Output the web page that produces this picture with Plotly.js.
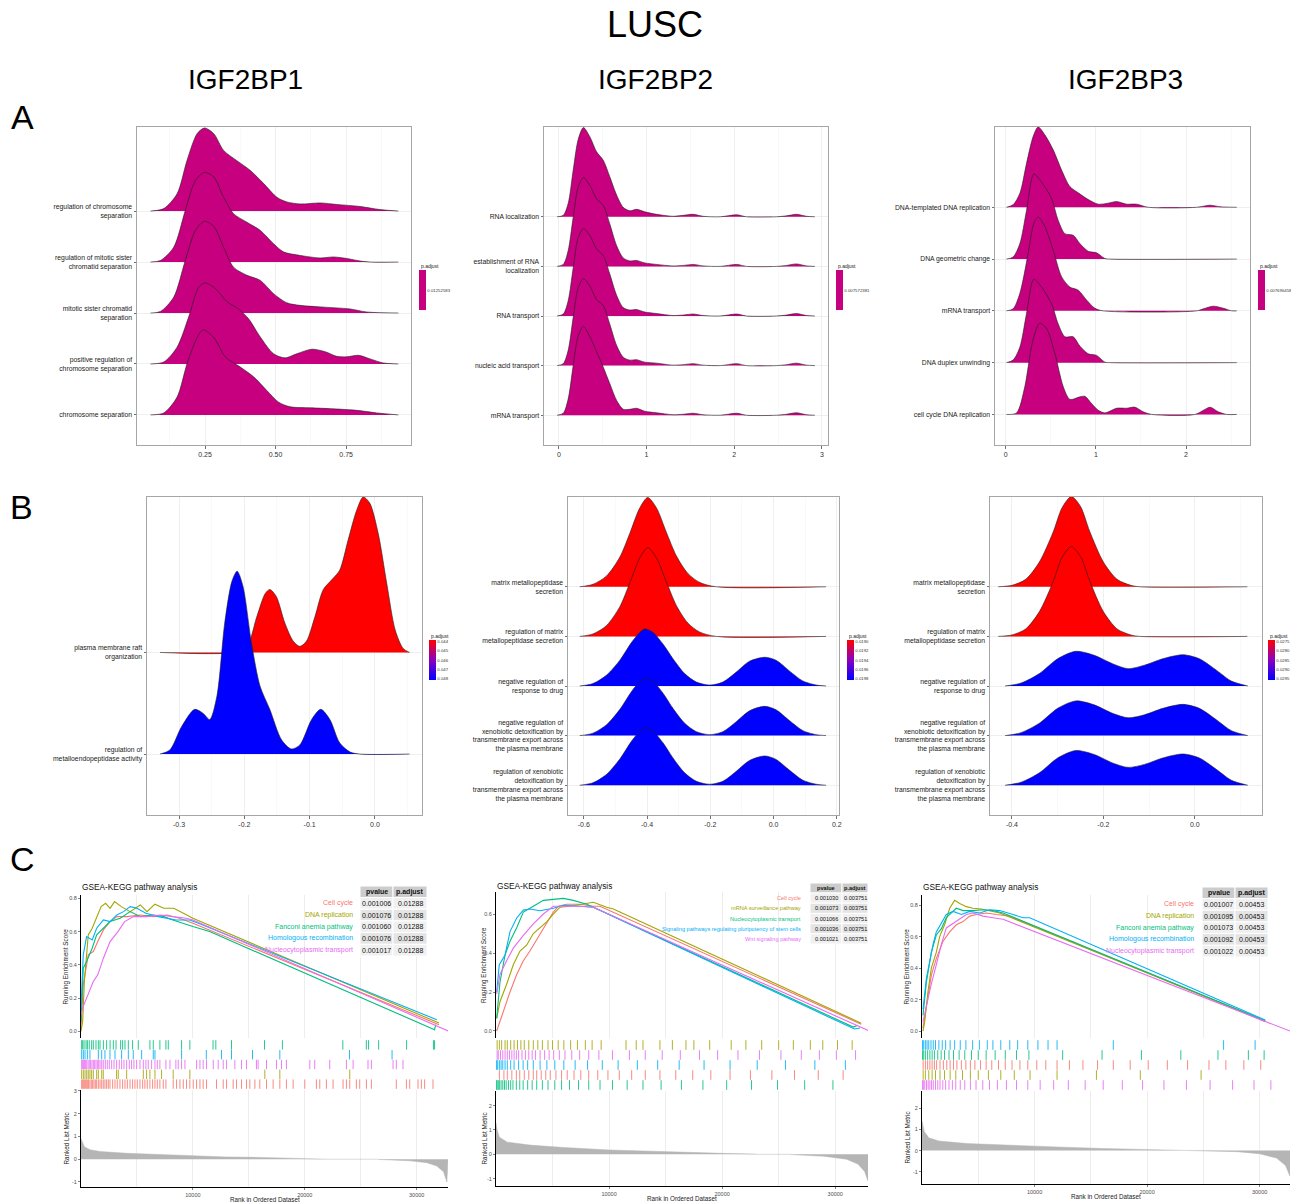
<!DOCTYPE html>
<html><head><meta charset="utf-8">
<script src="https://cdn.plot.ly/plotly-3.0.1.min.js"></script>
<style>html,body{margin:0;padding:0;background:#fff}#chart{width:1291px;height:1202px}</style>
</head><body><div id="chart"></div>
<script>
// ================= DATA =================
// ---- Row A (ridges, labels bottom -> top, ridges top -> bottom) ----
const a1_labels = ['chromosome separation','positive regulation of<br>chromosome separation','mitotic sister chromatid<br>separation','regulation of mitotic sister<br>chromatid separation','regulation of chromosome<br>separation'];
const a1_x_r1 = [0.057,0.104,0.151,0.186,0.222,0.248,0.281,0.316,0.363,0.410,0.458,0.505,0.540,0.587,0.658,0.717,0.800,0.870,0.935];
const a1_h_r1 = [0,0.05,0.34,0.99,1.52,1.63,1.52,1.19,0.99,0.80,0.54,0.27,0.18,0.14,0.16,0.13,0.09,0.03,0];
const a1_x_r2 = [0.057,0.092,0.139,0.180,0.216,0.248,0.281,0.316,0.351,0.399,0.446,0.493,0.528,0.587,0.658,0.705,0.752,0.800,0.835,0.935];
const a1_h_r2 = [0,0.03,0.29,1.01,1.60,1.76,1.67,1.27,0.95,0.78,0.62,0.36,0.20,0.13,0.08,0.10,0.07,0.02,0,0];
const a1_x_r3 = [0.057,0.092,0.139,0.180,0.216,0.248,0.281,0.316,0.351,0.399,0.446,0.493,0.540,0.587,0.658,0.717,0.764,0.823,0.935];
const a1_h_r3 = [0,0.03,0.31,1.03,1.62,1.80,1.70,1.29,0.90,0.74,0.64,0.38,0.20,0.15,0.12,0.10,0.08,0.02,0];
const a1_x_r4 = [0.057,0.104,0.151,0.192,0.228,0.251,0.287,0.328,0.369,0.404,0.446,0.493,0.534,0.575,0.629,0.676,0.717,0.752,0.794,0.835,0.882,0.935];
const a1_h_r4 = [0,0.04,0.33,0.92,1.51,1.59,1.48,1.22,1.08,0.89,0.53,0.20,0.12,0.20,0.29,0.24,0.15,0.14,0.17,0.10,0.02,0];
const a1_x_r5 = [0.057,0.104,0.151,0.186,0.222,0.243,0.281,0.322,0.375,0.422,0.469,0.511,0.552,0.623,0.705,0.788,0.858,0.935];
const a1_h_r5 = [0,0.04,0.35,1.0,1.52,1.67,1.52,1.14,0.94,0.75,0.48,0.25,0.16,0.14,0.12,0.09,0.04,0];
const a1_padj = '0.01252583';

const a2_labels = ['mRNA transport','nucleic acid transport','RNA transport','establishment of RNA<br>localization','RNA localization'];
const a2_x = [-0.02,0.05,0.106,0.163,0.22,0.28,0.354,0.43,0.506,0.58,0.658,0.734,0.81,0.886,0.98,1.114,1.30,1.42,1.532,1.646,1.84,2.03,2.14,2.48,2.60,2.71,2.825,2.92];
const a2_h_r1 = [0,0.03,0.27,0.94,1.56,1.80,1.61,1.31,1.14,0.81,0.44,0.19,0.12,0.15,0.10,0.05,0.01,0.03,0.05,0.01,0,0.04,0,0,0.02,0.05,0.01,0];
const a2_h_r2 = [0,0.04,0.32,0.99,1.60,1.79,1.63,1.36,1.23,0.86,0.42,0.17,0.11,0.12,0.07,0.04,0.01,0.02,0.04,0.01,0,0.04,0,0,0.02,0.05,0.01,0];
const a2_h_r3 = [0,0.04,0.31,0.97,1.58,1.76,1.62,1.35,1.22,0.85,0.42,0.17,0.12,0.13,0.08,0.05,0.01,0.02,0.04,0.01,0,0.04,0,0,0.02,0.05,0.01,0];
const a2_h_r4 = [0,0.04,0.31,0.97,1.57,1.75,1.60,1.33,1.21,0.84,0.41,0.17,0.11,0.12,0.07,0.05,0.01,0.02,0.04,0.01,0,0.04,0,0,0.02,0.05,0.01,0];
const a2_h_r5 = [0,0.04,0.33,1.0,1.60,1.79,1.58,1.28,0.97,0.64,0.30,0.12,0.12,0.14,0.08,0.05,0.01,0.02,0.04,0.01,0,0.04,0,0,0.02,0.05,0.01,0];
const a2_padj = '0.007572381';

const a3_labels = ['cell cycle DNA replication','DNA duplex unwinding','mRNA transport','DNA geometric change','DNA-templated DNA replication'];
const a3_x_r1 = [0.007,0.081,0.156,0.230,0.304,0.359,0.433,0.526,0.619,0.711,0.804,0.915,1.026,1.137,1.230,1.341,1.452,1.581,2.119,2.267,2.378,2.563];
const a3_h_r1 = [0,0.05,0.27,0.85,1.37,1.55,1.40,1.11,0.72,0.40,0.28,0.15,0.06,0.08,0.11,0.06,0.06,0,0,0.04,0.01,0];
const a3_x_r2 = [0.007,0.081,0.156,0.230,0.311,0.396,0.507,0.581,0.656,0.748,0.822,0.915,1.007,1.100,1.156,2.563];
const a3_h_r2 = [0,0.04,0.30,0.94,1.64,1.49,1.17,0.75,0.49,0.46,0.30,0.15,0.12,0.01,0,0];
const a3_x_r3 = [0.007,0.081,0.156,0.248,0.311,0.359,0.433,0.526,0.619,0.711,0.804,0.896,0.989,1.081,2.119,2.193,2.304,2.415,2.507,2.563];
const a3_h_r3 = [0,0.04,0.34,1.11,1.69,1.81,1.63,1.17,0.66,0.46,0.40,0.21,0.05,0,0,0.04,0.09,0.05,0,0];
const a3_x_r4 = [0.007,0.081,0.156,0.230,0.311,0.396,0.507,0.581,0.656,0.748,0.822,0.915,1.007,1.100,1.156,2.563];
const a3_h_r4 = [0,0.05,0.30,0.95,1.61,1.46,1.14,0.75,0.50,0.50,0.32,0.17,0.14,0.01,0,0];
const a3_x_r5 = [0.007,0.119,0.211,0.285,0.341,0.378,0.452,0.544,0.637,0.711,0.822,0.878,0.952,1.026,1.100,1.230,1.341,1.433,1.526,1.619,2.100,2.193,2.267,2.359,2.452,2.563];
const a3_h_r5 = [0,0.03,0.54,1.31,1.66,1.76,1.66,1.18,0.54,0.29,0.34,0.35,0.21,0.08,0.03,0.12,0.12,0.14,0.05,0,0,0.08,0.14,0.05,0,0];
const a3_padj = '0.007696458';

// ---- Row B ----
const b1_labels = ['regulation of<br>metalloendopeptidase activity','plasma membrane raft<br>organization'];
const b1_x_red = [-0.329,-0.217,-0.196,-0.181,-0.168,-0.161,-0.151,-0.138,-0.125,-0.115,-0.105,-0.092,-0.079,-0.064,-0.054,-0.041,-0.028,-0.018,-0.008,0.005,0.018,0.031,0.043,0.053];
const b1_h_red = [0,0,0.06,0.35,0.58,0.62,0.55,0.29,0.11,0.06,0.11,0.35,0.62,0.73,0.81,1.11,1.40,1.53,1.47,1.17,0.68,0.22,0.04,0];
const b1_x_blue = [-0.329,-0.314,-0.296,-0.276,-0.263,-0.253,-0.242,-0.230,-0.219,-0.211,-0.202,-0.189,-0.176,-0.161,-0.143,-0.128,-0.115,-0.097,-0.083,-0.069,-0.054,-0.038,-0.023,0.053];
const b1_h_blue = [0,0.04,0.27,0.44,0.40,0.34,0.57,1.29,1.70,1.80,1.65,1.09,0.67,0.44,0.14,0.05,0.09,0.34,0.44,0.34,0.11,0.02,0,0];
const b1_padj_ticks = [0.044,0.045,0.046,0.047,0.048];

const b2_labels = ['regulation of xenobiotic<br>detoxification by<br>transmembrane export across<br>the plasma membrane','negative regulation of<br>xenobiotic detoxification by<br>transmembrane export across<br>the plasma membrane','negative regulation of<br>response to drug','regulation of matrix<br>metallopeptidase secretion','matrix metallopeptidase<br>secretion'];
const b2_x_red = [-0.613,-0.571,-0.528,-0.486,-0.455,-0.423,-0.398,-0.371,-0.339,-0.307,-0.271,-0.234,-0.181,0.166];
const b2_h_red1 = [0,0.05,0.22,0.60,1.07,1.59,1.80,1.60,1.10,0.62,0.27,0.09,0,0];
const b2_h_red2 = [0,0.05,0.22,0.60,1.07,1.58,1.79,1.59,1.10,0.62,0.27,0.09,0,0];
const b2_x_blue = [-0.613,-0.571,-0.528,-0.486,-0.449,-0.423,-0.407,-0.381,-0.349,-0.318,-0.281,-0.244,-0.202,-0.160,-0.118,-0.076,-0.028,0.008,0.051,0.093,0.135,0.166];
const b2_h_blue3 = [0,0.05,0.22,0.52,0.88,1.08,1.15,1.08,0.84,0.55,0.25,0.08,0.02,0.08,0.28,0.50,0.58,0.52,0.30,0.10,0.02,0];
const b2_h_blue4 = [0,0.05,0.22,0.53,0.89,1.09,1.16,1.09,0.85,0.55,0.25,0.08,0.02,0.08,0.28,0.50,0.59,0.52,0.30,0.10,0.02,0];
const b2_h_blue5 = [0,0.05,0.22,0.53,0.89,1.09,1.16,1.09,0.85,0.55,0.25,0.08,0.02,0.08,0.28,0.50,0.59,0.52,0.30,0.10,0.02,0];
const b2_padj_ticks = [0.0190,0.0192,0.0194,0.0196,0.0198];

const b3_labels = b2_labels;
const b3_x_red = [-0.43,-0.40,-0.37,-0.34,-0.31,-0.29,-0.27,-0.25,-0.23,-0.20,-0.17,-0.14,-0.12,0.115];
const b3_h_red1 = [0,0.03,0.15,0.50,1.10,1.60,1.82,1.62,1.12,0.50,0.15,0.03,0,0];
const b3_h_red2 = [0,0.03,0.15,0.50,1.10,1.60,1.81,1.61,1.12,0.50,0.15,0.03,0,0];
const b3_x_blue = [-0.415,-0.38,-0.34,-0.30,-0.26,-0.22,-0.18,-0.146,-0.11,-0.07,-0.026,0.01,0.05,0.08,0.116];
const b3_h_blue3 = [0,0.06,0.25,0.55,0.70,0.62,0.45,0.35,0.42,0.55,0.63,0.55,0.30,0.10,0];
const b3_h_blue4 = [0,0.06,0.25,0.55,0.70,0.62,0.45,0.36,0.42,0.55,0.63,0.55,0.30,0.10,0];
const b3_h_blue5 = [0,0.06,0.25,0.55,0.70,0.62,0.45,0.36,0.42,0.55,0.63,0.55,0.30,0.10,0];
const b3_padj_ticks = [0.0275,0.0280,0.0285,0.0290,0.0295];

// ---- Row C (GSEA; ranks in thousands) ----
const c1_sets = ['Cell cycle','DNA replication','Fanconi anemia pathway','Homologous recombination','Nucleocytoplasmic transport'];
const c1_pvalue = ['0.001006','0.001076','0.001060','0.001076','0.001017'];
const c1_padj = ['0.01288','0.01288','0.01288','0.01288','0.01288'];
const c1_cc_x = [0,0.2,0.65,1.1,1.5,2.0,2.6,3.2,4.1,5.3,6.5,7.7,8.8,10,32.0];
const c1_cc_y = [0.02,0.28,0.46,0.48,0.54,0.61,0.66,0.69,0.69,0.70,0.69,0.70,0.68,0.65,0.04];
const c1_dna_x = [0,0.15,0.3,0.45,0.65,1.0,1.4,1.8,2.2,2.6,3.0,3.6,4.4,5.3,5.9,6.6,7.4,8.3,10,32.0];
const c1_dna_y = [0,0.06,0.3,0.44,0.58,0.62,0.68,0.75,0.77,0.74,0.78,0.75,0.72,0.76,0.72,0.765,0.74,0.74,0.68,0.05];
const c1_fan_x = [0,0.2,0.5,1.0,1.4,2.0,2.6,3.5,4.4,5.3,6.5,7.4,8.2,10,11.5,31.6,31.7];
const c1_fan_y = [0.06,0.38,0.42,0.5,0.58,0.62,0.66,0.68,0.72,0.69,0.70,0.69,0.67,0.63,0.6,0.01,0.04];
const c1_hr_x = [0,0.2,0.5,1.0,1.4,2.0,2.6,3.2,3.8,4.4,5.0,5.8,6.9,8.5,9.7,10.5,31.8];
const c1_hr_y = [0.14,0.46,0.57,0.55,0.62,0.67,0.66,0.7,0.72,0.75,0.74,0.71,0.69,0.67,0.67,0.65,0.07];
const c1_nt_x = [0,0.2,0.5,1.1,1.5,2.0,2.6,3.3,3.9,4.7,5.9,7.1,8.2,9.4,10,32.9];
const c1_nt_y = [0.1,0.15,0.2,0.3,0.34,0.44,0.54,0.6,0.66,0.69,0.69,0.70,0.69,0.68,0.67,0.0];
const c1_rug_fan = [0.06,0.15,0.27,0.45,0.57,0.74,0.95,1.1,1.34,1.55,1.7,2.0,2.29,2.6,2.89,3.13,3.54,3.72,3.93,4.23,4.61,5.12,6.16,6.46,7.05,7.59,7.8,8.99,9.73,11.8,12.05,13.45,16.4,18.0,23.4,25.5,25.7,26.6,29.1,31.5,31.6];
const c1_rug_hr = [0.06,0.21,0.36,0.57,0.8,1.55,1.85,2.14,2.59,3.04,3.63,4.23,4.67,5.42,6.46,6.61,8.99,11.2,12.56,13.45,15.33,17.77,24.0,27.8];
const c1_rug_nt = [0.06,0.15,0.21,0.30,0.39,0.51,0.63,0.74,0.86,0.98,1.10,1.22,1.34,1.46,1.58,1.70,1.85,1.99,2.17,2.35,2.53,2.74,2.95,3.18,3.42,3.63,3.84,4.08,4.32,4.52,4.73,4.97,5.27,5.57,5.80,6.01,6.31,6.61,6.82,7.05,7.59,7.95,8.48,8.69,8.99,9.29,10.33,10.63,10.92,11.22,11.82,12.26,12.71,13.01,13.75,14.35,14.79,15.68,15.83,16.58,17.47,17.92,18.36,20.45,20.89,22.23,23.72,24.32,25.65,25.95,27.89,28.18,28.78];
const c1_rug_dna = [0.06,0.21,0.36,0.51,0.65,0.80,0.95,1.10,1.40,1.55,1.85,1.99,3.18,3.33,4.08,5.57,5.86,6.16,6.61,7.20,8.24,9.73,16.43,17.77,24.02];
const c1_rug_cc = [0.06,0.15,0.24,0.33,0.42,0.51,0.60,0.68,0.80,0.92,1.04,1.16,1.28,1.40,1.55,1.70,1.85,1.99,2.14,2.29,2.44,2.59,2.83,3.04,3.24,3.48,3.72,3.93,4.14,4.38,4.61,4.82,5.03,5.27,5.51,5.71,5.92,6.16,6.40,6.61,6.82,7.05,7.35,7.59,8.24,8.54,8.84,9.14,9.43,9.73,10.03,10.33,10.63,10.92,11.22,12.11,12.71,13.01,13.60,13.90,14.35,14.79,15.09,15.54,15.98,16.58,17.17,17.77,18.36,18.96,20.0,21.04,21.34,21.93,22.53,23.42,23.72,24.02,24.61,24.91,25.51,25.95,28.18,29.08,29.38,30.12,30.42,30.71,31.46];
const c1_rank_x = [0,0.1,0.3,0.8,1.7,4.1,7,10,13,16,19,22,22.1,26.5,26.6,29.4,30.9,31.8,32.4,32.7,32.8];
const c1_rank_y = [0.9,0.75,0.55,0.42,0.34,0.26,0.2,0.14,0.1,0.08,0.05,0.02,0,0,-0.01,-0.07,-0.15,-0.3,-0.55,-1.0,0];

const c2_sets = ['Cell cycle','mRNA surveillance pathway','Nucleocytoplasmic transport','Signaling pathways regulating pluripotency of stem cells','Wnt signaling pathway'];
const c2_pvalue = ['0.001030','0.001073','0.001066','0.001036','0.001021'];
const c2_padj = ['0.003751','0.003751','0.003751','0.003751','0.003751'];
const c2_cc_x = [0.06,0.35,0.8,1.24,1.83,2.42,3.0,3.75,4.48,5.07,5.52,6.25,7.43,8.61,9.2,32.0,32.3];
const c2_cc_y = [0,0.05,0.12,0.2,0.29,0.36,0.41,0.48,0.55,0.61,0.64,0.65,0.65,0.64,0.64,0.04,0.035];
const c2_mrna_x = [0.06,0.35,0.94,1.53,2.12,2.71,3.30,3.89,4.48,5.07,5.66,6.55,7.43,8.61,9.79,10.38,32.3];
const c2_mrna_y = [0.065,0.15,0.24,0.34,0.41,0.44,0.5,0.53,0.56,0.6,0.635,0.64,0.65,0.66,0.635,0.626,0.04];
const c2_nt_x = [0.06,0.35,0.8,1.24,1.83,2.42,3.30,4.19,5.07,5.96,6.84,8.02,9.20,31.6,32.0];
const c2_nt_y = [0.065,0.25,0.39,0.46,0.53,0.61,0.64,0.67,0.675,0.68,0.67,0.65,0.62,0.02,0.03];
const c2_sp_x = [0.06,0.29,0.8,1.24,1.83,2.42,3.01,3.89,5.07,5.96,7.43,8.61,31.7,32.2];
const c2_sp_y = [0.2,0.34,0.39,0.51,0.58,0.62,0.626,0.617,0.63,0.645,0.64,0.635,0.01,0.015];
const c2_wnt_x = [0.06,0.35,0.94,1.53,2.42,3.30,4.19,5.07,6.25,7.43,8.61,33.0];
const c2_wnt_y = [0.19,0.29,0.36,0.425,0.49,0.55,0.6,0.64,0.64,0.64,0.635,0.0];
const c2_rug_mrna = [0.1,0.3,0.5,0.8,1.0,1.3,1.6,1.9,2.2,2.5,2.9,3.3,3.7,4.1,4.6,5.0,5.5,6.0,6.6,7.2,7.9,8.5,9.3,11.5,12.4,13.0,14.5,15.6,16.8,17.5,18.9,20.8,22.1,23.5,25.0,26.3,27.8,28.9,30.2,31.5];
const c2_rug_wnt = [0.1,0.2,0.4,0.6,0.8,1.0,1.2,1.4,1.6,1.8,2.0,2.3,2.6,2.9,3.2,3.5,3.9,4.3,4.7,5.1,5.6,6.1,6.7,7.4,8.2,9.1,10.3,11.8,13.2,14.7,16.3,18.0,19.6,21.4,23.3,25.2,27.0,28.6,30.1,31.8];
const c2_rug_sp = [0.05,0.15,0.3,0.45,0.6,0.8,1.0,1.3,1.6,2.0,2.4,2.8,3.3,3.9,4.5,5.2,6.0,7.0,8.1,9.4,10.8,12.5,14.3,16.2,18.4,20.7,23.1,25.6,28.2,30.9];
const c2_rug_cc = [0.3,0.7,1.0,1.4,1.8,2.1,2.5,2.9,3.3,3.6,4.0,4.4,4.8,5.3,5.8,6.3,6.9,7.5,8.2,9.0,9.9,10.9,12.0,13.2,14.5,15.9,17.4,19.0,20.7,22.5,24.4,26.4,28.5,30.7];
const c2_rug_nt = [0.05,0.1,0.2,0.3,0.45,0.6,0.75,0.9,1.1,1.3,1.5,1.8,2.1,2.4,2.8,3.2,3.6,4.1,4.6,5.2,5.8,6.5,7.3,8.2,9.2,10.3,11.6,13.0,14.6,16.4,18.3,20.4,22.6,24.9,27.3,29.8];
const c2_rank_x = [0,0.1,0.3,1.0,3.0,6.0,10,15,20,23,23.1,26,26.1,29,31,32,32.6,32.9,32.9];
const c2_rank_y = [1.3,1.0,0.7,0.5,0.38,0.28,0.18,0.1,0.04,0.01,0,0,-0.01,-0.08,-0.2,-0.4,-0.7,-1.1,0];

const c3_sets = ['Cell cycle','DNA replication','Fanconi anemia pathway','Homologous recombination','Nucleocytoplasmic transport'];
const c3_pvalue = ['0.001007','0.001095','0.001073','0.001092','0.001022'];
const c3_padj = ['0.00453','0.00453','0.00453','0.00453','0.00453'];
const c3_cc_x = [0.09,0.39,0.83,1.27,1.87,2.46,3.05,3.64,4.24,4.83,5.72,6.61,7.79,30.5];
const c3_cc_y = [0.02,0.145,0.355,0.46,0.57,0.63,0.675,0.695,0.73,0.74,0.75,0.74,0.73,0.06];
const c3_dna_x = [0.09,0.24,0.53,0.83,1.27,1.57,2.01,2.46,2.90,3.35,3.94,4.53,5.27,6.01,6.90,30.5];
const c3_dna_y = [0,0.06,0.25,0.4,0.5,0.6,0.675,0.78,0.83,0.81,0.79,0.78,0.775,0.765,0.75,0.065];
const c3_fan_x = [0.09,0.39,0.83,1.27,1.72,2.16,2.61,3.05,3.64,4.53,5.42,6.31,7.20,30.5];
const c3_fan_y = [0.1,0.31,0.5,0.61,0.65,0.72,0.75,0.78,0.765,0.765,0.77,0.765,0.75,0.065];
const c3_hr_x = [0.09,0.39,0.68,0.98,1.27,1.72,2.16,2.76,3.50,4.24,5.13,6.01,6.90,8.09,8.98,9.57,30.5];
const c3_hr_y = [0.14,0.335,0.44,0.55,0.63,0.685,0.74,0.76,0.74,0.76,0.75,0.77,0.765,0.74,0.72,0.72,0.07];
const c3_nt_x = [0.09,0.39,0.83,1.27,1.72,2.16,2.76,3.35,3.94,4.53,5.42,6.31,7.20,32.7];
const c3_nt_y = [0.06,0.165,0.3,0.42,0.55,0.655,0.685,0.71,0.74,0.75,0.73,0.72,0.71,0.0];
const c3_rug_hr = [0.05,0.15,0.3,0.45,0.6,0.8,1.0,1.2,1.5,1.8,2.1,2.5,2.9,3.4,3.9,4.5,5.1,5.8,6.3,7.0,7.8,8.5,9.4,10.3,11.2,12.0,17.0,26.8,29.6];
const c3_rug_fan = [0.05,0.15,0.3,0.5,0.7,0.9,1.1,1.4,1.7,2.0,2.4,2.8,3.3,3.8,4.4,5.0,5.7,6.5,7.4,8.4,9.5,12.5,16.0,19.5,23.0,26.3,29.0,30.4];
const c3_rug_cc = [0.1,0.3,0.5,0.7,0.9,1.1,1.3,1.6,1.9,2.2,2.5,2.8,3.1,3.5,3.9,4.3,4.7,5.2,5.7,6.2,6.8,7.4,8.0,8.7,9.4,10.2,11.0,12.0,13.1,14.3,15.6,17.0,18.5,20.1,21.8,23.6,25.5,27.0,28.6,30.1];
const c3_rug_dna = [0.1,0.3,0.6,0.9,1.2,1.6,2.0,2.5,3.0,3.6,4.3,5.0,5.9,7.0,8.2,9.6,12.0,15.5,19.4,24.8];
const c3_rug_nt = [0.05,0.15,0.25,0.4,0.55,0.7,0.85,1.0,1.2,1.4,1.6,1.85,2.1,2.4,2.7,3.0,3.4,3.8,4.3,4.8,5.4,6.0,6.7,7.5,8.4,9.4,10.5,11.7,13.0,14.5,16.1,17.8,19.6,21.5,23.5,25.6,27.6,29.5,31.0];
const c3_rank_x = [0,0.2,0.6,1.5,4,8,12,16,20,24,24.1,26,26.1,28,30,31.5,32.3,32.7,32.7];
const c3_rank_y = [1.4,0.9,0.6,0.45,0.33,0.24,0.17,0.1,0.05,0.02,0,0,-0.01,-0.05,-0.15,-0.35,-0.7,-1.2,0];

// ================= DRAWING =================
const W = 1291, H = 1202;
const FONT = 'Liberation Sans, Arial, Helvetica, sans-serif';
const MAGENTA = '#c6007e';
const COL = {red:'#F8766D', olive:'#A3A500', green:'#00BF7D', blue:'#00B0F6', pink:'#E76BF3'};
const px = v => v / W, py = v => 1 - v / H;
const xd = (a, b) => [a / W, b / W];
const yd = (a, b) => [1 - b / H, 1 - a / H];

const data = [];
const layout = {width: W, height: H, margin: {l:0, r:0, t:0, b:0}, showlegend: false,
  paper_bgcolor: '#fff', plot_bgcolor: 'rgba(0,0,0,0)', font: {family: FONT, color: '#000'},
  annotations: [], shapes: []};

let axN = 0;
function addAxes(xc, yc) {
  axN++;
  const s = axN === 1 ? '' : String(axN);
  xc.anchor = 'y' + s; yc.anchor = 'x' + s;
  xc.fixedrange = true; yc.fixedrange = true;
  layout['xaxis' + s] = xc; layout['yaxis' + s] = yc;
  return {x: 'x' + s, y: 'y' + s};
}
function ann(text, x, y, o) {
  layout.annotations.push(Object.assign({text: text, x: px(x), y: py(y), xref: 'paper', yref: 'paper',
    showarrow: false, font: {size: 8, family: FONT, color: '#000'}, xanchor: 'center', yanchor: 'middle'}, o || {}));
}
function rect(x0, y0, x1, y1, fill) {
  layout.shapes.push({type: 'rect', xref: 'paper', yref: 'paper', x0: px(x0), x1: px(x1), y0: py(y1), y1: py(y0),
    fillcolor: fill, line: {color: '#ffffff', width: 1}, layer: 'above'});
}

function ridgePanel(o) {
  const n = o.labels.length;
  const ax = addAxes({
    domain: xd(o.x0, o.x1), range: o.xr, tickmode: 'array', tickvals: o.xt, ticktext: o.xtt,
    ticks: 'outside', ticklen: 2.5, tickcolor: '#333', tickwidth: 0.7, tickfont: {size: 7, color: '#333'},
    showgrid: true, gridcolor: '#ebebeb', gridwidth: 0.8,
    minor: {tickvals: o.xm, showgrid: true, gridcolor: '#f5f5f5', gridwidth: 0.6, ticks: ''},
    zeroline: false, showline: true, mirror: true, linecolor: '#a6a6a6', linewidth: 1
  }, {
    domain: yd(o.y0, o.y1), range: o.yr, tickmode: 'array', tickvals: o.labels.map((_, i) => i), ticktext: o.labels,
    ticks: 'outside', ticklen: 2.5, tickcolor: '#333', tickwidth: 0.7, tickfont: {size: 6.8, color: '#1a1a1a'},
    showgrid: true, gridcolor: '#ebebeb', gridwidth: 0.8, zeroline: false, showline: true, mirror: true,
    linecolor: '#a6a6a6', linewidth: 1
  });
  // ridges given top -> bottom ; lower ones drawn last
  o.ridges.forEach((r, k) => {
    const base = n - 1 - k;
    data.push({type: 'scatter', mode: 'lines', x: r.x, y: r.h.map(v => v + base), fill: 'toself',
      fillcolor: r.c, line: {color: '#1f1f1f', width: 0.6, shape: 'spline', smoothing: 0.8},
      xaxis: ax.x, yaxis: ax.y, hoverinfo: 'skip'});
  });
  // colour bar (legend)
  const cb = o.cb;
  const mk = {size: 1, opacity: 0, showscale: true, color: [cb.cmin], cmin: cb.cmin, cmax: cb.cmax, colorscale: cb.scale,
    colorbar: {x: px(cb.x), xanchor: 'left', y: py(cb.yc), yanchor: 'middle', len: cb.len, lenmode: 'pixels',
      thickness: 7, thicknessmode: 'pixels', outlinewidth: 0, xpad: 0, ypad: 0, ticks: '',
      tickmode: 'array', tickvals: cb.tv, ticktext: cb.tt, tickfont: {size: 4.3, color: '#333'}, ticklabelpad: 1}};
  data.push({type: 'scatter', mode: 'markers', x: [o.xr[0]], y: [o.yr[0]], marker: mk, xaxis: ax.x, yaxis: ax.y, hoverinfo: 'skip'});
  ann('p.adjust', cb.x - 0.5, cb.yc - cb.len / 2 - 4, {xanchor: 'left', font: {size: 5, color: '#222', family: FONT}});
}

const solidScale = [[0, MAGENTA], [1, MAGENTA]];
const gradScale = [[0, '#0000ff'], [0.5, '#8a00c0'], [1, '#ff0000']];
function gradCB(ticks, x, yc, fmt) {
  // top of bar = smallest p.adjust (red), bottom = largest (blue)
  return {x: x, yc: yc, len: 40, cmin: -ticks[ticks.length - 1] - (ticks[1] - ticks[0]) * 0.12,
    cmax: -ticks[0] + (ticks[1] - ticks[0]) * 0.12, scale: gradScale,
    tv: ticks.map(v => -v), tt: ticks.map(v => v.toFixed(fmt))};
}

ridgePanel({x0: 137, x1: 411, y0: 127, y1: 445, xr: [0.009, 0.98], xt: [0.25, 0.5, 0.75], xtt: ['0.25', '0.50', '0.75'],
  xm: [0.125, 0.375, 0.625, 0.875], yr: [-0.59, 5.65], labels: a1_labels,
  ridges: [{x: a1_x_r1, h: a1_h_r1, c: MAGENTA}, {x: a1_x_r2, h: a1_h_r2, c: MAGENTA}, {x: a1_x_r3, h: a1_h_r3, c: MAGENTA},
           {x: a1_x_r4, h: a1_h_r4, c: MAGENTA}, {x: a1_x_r5, h: a1_h_r5, c: MAGENTA}],
  cb: {x: 419, yc: 290, len: 40, cmin: 0, cmax: 1, scale: solidScale, tv: [0.5], tt: [a1_padj]}});
ridgePanel({x0: 544, x1: 828, y0: 127, y1: 445, xr: [-0.17, 3.07], xt: [0, 1, 2, 3], xtt: ['0', '1', '2', '3'],
  xm: [0.5, 1.5, 2.5], yr: [-0.6, 5.81], labels: a2_labels,
  ridges: [{x: a2_x, h: a2_h_r1, c: MAGENTA}, {x: a2_x, h: a2_h_r2, c: MAGENTA}, {x: a2_x, h: a2_h_r3, c: MAGENTA},
           {x: a2_x, h: a2_h_r4, c: MAGENTA}, {x: a2_x, h: a2_h_r5, c: MAGENTA}],
  cb: {x: 836, yc: 290, len: 40, cmin: 0, cmax: 1, scale: solidScale, tv: [0.5], tt: [a2_padj]}});
ridgePanel({x0: 995, x1: 1250, y0: 127, y1: 445, xr: [-0.12, 2.71], xt: [0, 1, 2], xtt: ['0', '1', '2'],
  xm: [0.5, 1.5, 2.5], yr: [-0.59, 5.55], labels: a3_labels,
  ridges: [{x: a3_x_r1, h: a3_h_r1, c: MAGENTA}, {x: a3_x_r2, h: a3_h_r2, c: MAGENTA}, {x: a3_x_r3, h: a3_h_r3, c: MAGENTA},
           {x: a3_x_r4, h: a3_h_r4, c: MAGENTA}, {x: a3_x_r5, h: a3_h_r5, c: MAGENTA}],
  cb: {x: 1258, yc: 290, len: 40, cmin: 0, cmax: 1, scale: solidScale, tv: [0.5], tt: [a3_padj]}});

ridgePanel({x0: 147, x1: 422, y0: 497, y1: 815, xr: [-0.349, 0.072], xt: [-0.3, -0.2, -0.1, 0], xtt: ['-0.3', '-0.2', '-0.1', '0.0'],
  xm: [-0.25, -0.15, -0.05, 0.05], yr: [-0.6, 2.53], labels: b1_labels,
  ridges: [{x: b1_x_red, h: b1_h_red, c: '#ff0000'}, {x: b1_x_blue, h: b1_h_blue, c: '#0000ff'}],
  cb: gradCB(b1_padj_ticks, 429, 660, 3)});
ridgePanel({x0: 568, x1: 839, y0: 497, y1: 815, xr: [-0.65, 0.207], xt: [-0.6, -0.4, -0.2, 0, 0.2], xtt: ['-0.6', '-0.4', '-0.2', '0.0', '0.2'],
  xm: [-0.5, -0.3, -0.1, 0.1], yr: [-0.6, 5.81], labels: b2_labels,
  ridges: [{x: b2_x_red, h: b2_h_red1, c: '#ff0000'}, {x: b2_x_red, h: b2_h_red2, c: '#ff0000'},
           {x: b2_x_blue, h: b2_h_blue3, c: '#0000ff'}, {x: b2_x_blue, h: b2_h_blue4, c: '#0000ff'}, {x: b2_x_blue, h: b2_h_blue5, c: '#0000ff'}],
  cb: gradCB(b2_padj_ticks, 847, 660, 4)});
ridgePanel({x0: 990, x1: 1262, y0: 497, y1: 815, xr: [-0.448, 0.147], xt: [-0.4, -0.2, 0], xtt: ['-0.4', '-0.2', '0.0'],
  xm: [-0.3, -0.1, 0.1], yr: [-0.6, 5.81], labels: b3_labels,
  ridges: [{x: b3_x_red, h: b3_h_red1, c: '#ff0000'}, {x: b3_x_red, h: b3_h_red2, c: '#ff0000'},
           {x: b3_x_blue, h: b3_h_blue3, c: '#0000ff'}, {x: b3_x_blue, h: b3_h_blue4, c: '#0000ff'}, {x: b3_x_blue, h: b3_h_blue5, c: '#0000ff'}],
  cb: gradCB(b3_padj_ticks, 1268, 660, 4)});

function gsea(o) {
  const es = addAxes({domain: xd(o.x0, o.x1), range: [0, o.N], showticklabels: false, ticks: '', tickmode: 'array',
      tickvals: [5, 10, 15, 20, 25, 30], showgrid: true, gridcolor: '#e8e8e8', gridwidth: 0.8, zeroline: false, showline: false},
    {domain: yd(o.esY[0], o.esY[1]), range: o.esR, tickmode: 'array', tickvals: o.esT, ticktext: o.esT.map(v => v.toFixed(1)),
      ticks: 'outside', ticklen: 2, tickcolor: '#333', tickwidth: 0.6, tickfont: {size: 5.5, color: '#4d4d4d'},
      showgrid: false, zeroline: false, showline: true, linecolor: '#000', linewidth: 1});
  const rug = addAxes({domain: xd(o.x0, o.x1), range: [0, o.N], visible: false},
    {domain: yd(o.rugY[0], o.rugY[1]), range: [0, 5], visible: false});
  const rk = addAxes({domain: xd(o.x0, o.x1), range: [0, o.N], tickmode: 'array', tickvals: [10, 20, 30], ticktext: ['10000', '20000', '30000'],
      ticks: 'outside', ticklen: 2, tickcolor: '#333', tickwidth: 0.6, tickfont: {size: 5.5, color: '#4d4d4d'},
      showgrid: true, gridcolor: '#e8e8e8', gridwidth: 0.8,
      minor: {tickvals: [5, 15, 25], showgrid: true, gridcolor: '#e8e8e8', gridwidth: 0.8, ticks: ''},
      zeroline: false, showline: true, linecolor: '#000', linewidth: 1},
    {domain: yd(o.rankY[0], o.rankY[1]), range: o.rankR, tickmode: 'array', tickvals: o.rankT, ticktext: o.rankT.map(String),
      ticks: 'outside', ticklen: 2, tickcolor: '#333', tickwidth: 0.6, tickfont: {size: 5.5, color: '#4d4d4d'},
      showgrid: false, zeroline: false, showline: true, linecolor: '#000', linewidth: 1});
  // ranked list metric
  data.push({type: 'scatter', mode: 'lines', x: o.rank.x, y: o.rank.y, fill: 'tozeroy', fillcolor: '#b5b5b5',
    line: {color: '#b5b5b5', width: 0.5}, xaxis: rk.x, yaxis: rk.y, hoverinfo: 'skip'});
  // rugs (top row first)
  o.rugs.forEach((r, i) => {
    const lo = 4 - i + 0.02, hi = 5 - i - 0.02;
    const xs = [], ys = [];
    r.p.forEach(p => { xs.push(p, p, null); ys.push(lo, hi, null); });
    data.push({type: 'scatter', mode: 'lines', x: xs, y: ys, line: {color: r.c, width: 1}, opacity: 0.85,
      xaxis: rug.x, yaxis: rug.y, hoverinfo: 'skip'});
  });
  // running enrichment score
  o.curves.forEach(c => {
    data.push({type: 'scatter', mode: 'lines', x: c.x, y: c.y, line: {color: c.c, width: 1.1},
      xaxis: es.x, yaxis: es.y, hoverinfo: 'skip'});
  });
  // titles
  ann('GSEA-KEGG pathway analysis', o.x0 - 1, o.titleY, {xanchor: 'left', font: {size: 8.3, color: '#111', family: FONT}});
  ann('Running Enrichment Score', o.ytx, (o.esY[0] + o.esY[1]) / 2, {textangle: -90, font: {size: 6.3, color: '#222', family: FONT}});
  ann('Ranked List Metric', o.ytx, (o.rankY[0] + o.rankY[1]) / 2, {textangle: -90, font: {size: 6.3, color: '#222', family: FONT}});
  ann('Rank in Ordered Dataset', (o.x0 + o.x1) / 2, o.rankY[1] + 12, {font: {size: 6.3, color: '#222', family: FONT}});
  // p-value table
  const t = o.table;
  rect(t.x0, t.y0, t.x1, t.y0 + t.hh, '#cccccc');
  rect(t.x1, t.y0, t.x2, t.y0 + t.hh, '#cccccc');
  ann('<b>pvalue</b>', (t.x0 + t.x1) / 2, t.y0 + t.hh / 2, {font: {size: t.fs, color: '#111', family: FONT}});
  ann('<b>p.adjust</b>', (t.x1 + t.x2) / 2, t.y0 + t.hh / 2, {font: {size: t.fs, color: '#111', family: FONT}});
  o.sets.forEach((s, i) => {
    const y0 = t.y0 + t.hh + i * t.rh, fill = i % 2 === 0 ? '#f0f0f0' : '#e4e4e4';
    rect(t.x0, y0, t.x1, y0 + t.rh, fill);
    rect(t.x1, y0, t.x2, y0 + t.rh, fill);
    ann(o.pv[i], (t.x0 + t.x1) / 2, y0 + t.rh / 2, {font: {size: t.fs, color: '#111', family: FONT}});
    ann(o.pa[i], (t.x1 + t.x2) / 2, y0 + t.rh / 2, {font: {size: t.fs, color: '#111', family: FONT}});
    ann(s, t.lx, y0 + t.rh / 2, {xanchor: 'right', font: {size: t.fs, color: o.colors[i], family: FONT}});
  });
}

const setCols = [COL.red, COL.olive, COL.green, COL.blue, COL.pink];
gsea({x0: 81, x1: 448, N: 32.8, esY: [895, 1038], esR: [-0.04, 0.82], esT: [0, 0.2, 0.4, 0.6, 0.8],
  rugY: [1040, 1089], rankY: [1090, 1187], rankR: [-1.22, 3.04], rankT: [-1, 0, 1, 2, 3], titleY: 887, ytx: 66,
  rank: {x: c1_rank_x, y: c1_rank_y},
  rugs: [{p: c1_rug_fan, c: COL.green}, {p: c1_rug_hr, c: COL.blue}, {p: c1_rug_nt, c: COL.pink}, {p: c1_rug_dna, c: COL.olive}, {p: c1_rug_cc, c: COL.red}],
  curves: [{x: c1_cc_x, y: c1_cc_y, c: COL.red}, {x: c1_dna_x, y: c1_dna_y, c: COL.olive}, {x: c1_fan_x, y: c1_fan_y, c: COL.green},
           {x: c1_hr_x, y: c1_hr_y, c: COL.blue}, {x: c1_nt_x, y: c1_nt_y, c: COL.pink}],
  sets: c1_sets, pv: c1_pvalue, pa: c1_padj, colors: setCols,
  table: {x0: 360, x1: 393, x2: 427, y0: 886, hh: 11.5, rh: 11.7, lx: 355, fs: 7}});
gsea({x0: 496, x1: 868, N: 32.9, esY: [892, 1038], esR: [-0.036, 0.713], esT: [0, 0.2, 0.4, 0.6],
  rugY: [1040, 1090], rankY: [1091, 1186], rankR: [-1.3, 2.6], rankT: [-1, 0, 1, 2], titleY: 886, ytx: 484,
  rank: {x: c2_rank_x, y: c2_rank_y},
  rugs: [{p: c2_rug_mrna, c: COL.olive}, {p: c2_rug_wnt, c: COL.pink}, {p: c2_rug_sp, c: COL.blue}, {p: c2_rug_cc, c: COL.red}, {p: c2_rug_nt, c: COL.green}],
  curves: [{x: c2_cc_x, y: c2_cc_y, c: COL.red}, {x: c2_mrna_x, y: c2_mrna_y, c: COL.olive}, {x: c2_nt_x, y: c2_nt_y, c: COL.green},
           {x: c2_sp_x, y: c2_sp_y, c: COL.blue}, {x: c2_wnt_x, y: c2_wnt_y, c: COL.pink}],
  sets: c2_sets, pv: c2_pvalue, pa: c2_padj, colors: setCols,
  table: {x0: 810, x1: 842, x2: 868, y0: 883, hh: 10, rh: 10.2, lx: 803, fs: 5.6}});
gsea({x0: 922, x1: 1290, N: 32.7, esY: [895, 1038], esR: [-0.044, 0.864], esT: [0, 0.2, 0.4, 0.6, 0.8],
  rugY: [1040, 1090], rankY: [1091, 1184], rankR: [-1.57, 2.8], rankT: [-1, 0, 1, 2], titleY: 887, ytx: 907,
  rank: {x: c3_rank_x, y: c3_rank_y},
  rugs: [{p: c3_rug_hr, c: COL.blue}, {p: c3_rug_fan, c: COL.green}, {p: c3_rug_cc, c: COL.red}, {p: c3_rug_dna, c: COL.olive}, {p: c3_rug_nt, c: COL.pink}],
  curves: [{x: c3_cc_x, y: c3_cc_y, c: COL.red}, {x: c3_dna_x, y: c3_dna_y, c: COL.olive}, {x: c3_fan_x, y: c3_fan_y, c: COL.green},
           {x: c3_hr_x, y: c3_hr_y, c: COL.blue}, {x: c3_nt_x, y: c3_nt_y, c: COL.pink}],
  sets: c3_sets, pv: c3_pvalue, pa: c3_padj, colors: setCols,
  table: {x0: 1202, x1: 1235, x2: 1268, y0: 887, hh: 11.5, rh: 11.7, lx: 1196, fs: 7}});

// big titles
ann('LUSC', 655, 25, {font: {size: 36, family: FONT, color: '#000'}});
ann('IGF2BP1', 245, 80, {font: {size: 28, family: FONT, color: '#000'}});
ann('IGF2BP2', 655, 80, {font: {size: 28, family: FONT, color: '#000'}});
ann('IGF2BP3', 1125, 80, {font: {size: 28, family: FONT, color: '#000'}});
ann('A', 22, 117, {font: {size: 34, family: FONT, color: '#000'}});
ann('B', 21, 507, {font: {size: 34, family: FONT, color: '#000'}});
ann('C', 22, 859, {font: {size: 34, family: FONT, color: '#000'}});

Plotly.newPlot('chart', data, layout, {staticPlot: true, displayModeBar: false});
</script></body></html>
